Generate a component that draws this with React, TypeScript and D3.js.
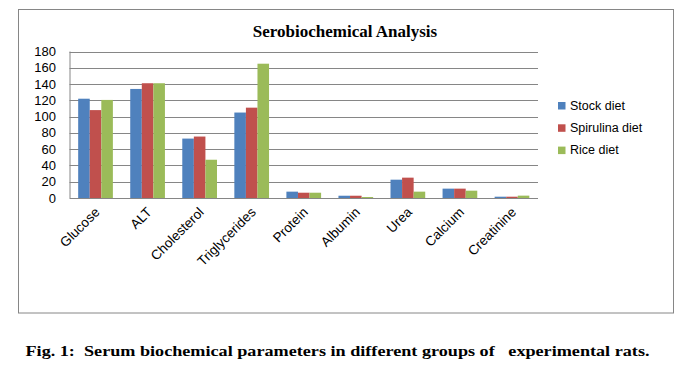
import React from "react";
import * as d3 from "d3";

const categories = ["Glucose", "ALT", "Cholesterol", "Triglycerides", "Protein", "Albumin", "Urea", "Calcium", "Creatinine"];
const seriesNames = ["Stock diet", "Spirulina diet", "Rice diet"];
const stockDiet = [122, 134, 73, 105, 7.8, 2.8, 22.5, 11.5, 1.6];
const spirulinaDiet = [108, 141, 75.5, 111, 6.5, 2.8, 25, 11.5, 1.6];
const riceDiet = [120.5, 141, 47, 165, 6.5, 1.2, 7.8, 9, 2.9];
const yTicks = [0, 20, 40, 60, 80, 100, 120, 140, 160, 180];
const colors = ["#4F81BD", "#C0504D", "#9BBB59"];

const W = 691;
const H = 369;
const plot = { left: 69.5, right: 538, top: 51.5, bottom: 198 };

function App() {
  const series = [stockDiet, spirulinaDiet, riceDiet];

  const x = d3.scaleBand<string>().domain(categories).range([plot.left, plot.right]).paddingInner(1.5 / 4.5).paddingOuter(0.75 / 4.5);
  const xInner = d3.scaleBand<number>().domain([0, 1, 2]).range([0, x.bandwidth()]);
  const y = d3.scaleLinear().domain([0, 180]).range([plot.bottom, plot.top]);

  const axisFont = "'Liberation Sans', Arial, sans-serif";

  return (
    <svg width={W} height={H} style={{ position: "absolute", left: 0, top: 0, background: "#fff" }}>
      <rect x={18.5} y={9.5} width={655} height={303.5} fill="#fff" stroke="#868686" strokeWidth={1} />
      <text x={345} y={37} textAnchor="middle" fontFamily="'Liberation Serif', 'Times New Roman', serif" fontWeight="bold" fontSize={17}>
        Serobiochemical Analysis
      </text>

      {/* gridlines + y labels */}
      {yTicks.map((t) => (
        <g key={t}>
          <line x1={plot.left} x2={plot.right} y1={Math.round(y(t)) + 0.5} y2={Math.round(y(t)) + 0.5} stroke="#868686" strokeWidth={1} />
          <text x={56} y={y(t)} dy="0.35em" textAnchor="end" fontFamily={axisFont} fontSize={13} fill="#000">
            {t}
          </text>
        </g>
      ))}
      <line x1={plot.left + 0.5} x2={plot.left + 0.5} y1={y(180)} y2={y(0)} stroke="#868686" strokeWidth={1} />

      {/* bars */}
      {series.map((vals, si) =>
        vals.map((v, ci) => (
          <rect
            key={si + "-" + ci}
            x={(x(categories[ci]) as number) + (xInner(si) as number)}
            y={y(v)}
            width={xInner.bandwidth()}
            height={y(0) - y(v)}
            fill={colors[si]}
          />
        ))
      )}

      {/* x labels */}
      {categories.map((c) => {
        const cx = (x(c) as number) + x.bandwidth() / 2 + 5;
        const cy = 213;
        return (
          <text key={c} x={cx} y={cy} textAnchor="end" transform={`rotate(-45 ${cx} ${cy})`} fontFamily={axisFont} fontSize={13.5} fill="#000">
            {c}
          </text>
        );
      })}

      {/* legend */}
      {seriesNames.map((n, i) => {
        const ly = 105.5 + i * 22.3;
        return (
          <g key={n}>
            <rect x={558} y={ly - 3.5} width={7.5} height={7.5} fill={colors[i]} />
            <text x={570} y={ly} dy="0.35em" fontFamily={axisFont} fontSize={12.5} fill="#000">
              {n}
            </text>
          </g>
        );
      })}

      <text x={25.5} y={356} fontFamily="'Liberation Serif', 'Times New Roman', serif" fontWeight="bold" fontSize={15.5} textLength={624} lengthAdjust="spacingAndGlyphs" xmlSpace="preserve" style={{ whiteSpace: "pre" }}>
        {"Fig. 1:  Serum biochemical parameters in different groups of   experimental rats."}
      </text>
    </svg>
  );
}

export default App;
